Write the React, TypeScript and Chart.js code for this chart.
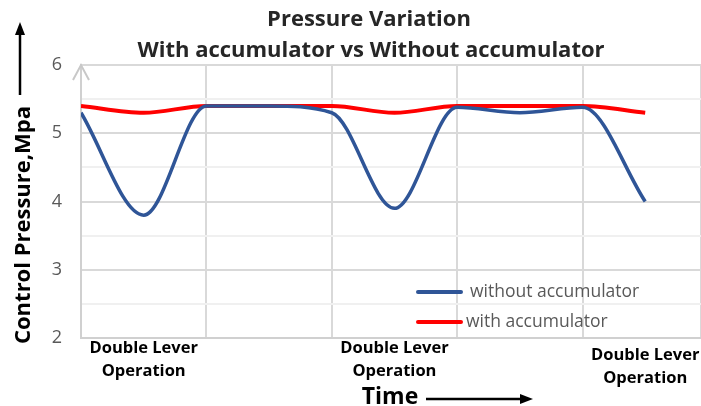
import React, { useEffect, useRef } from 'react';
import { Chart, registerables } from 'chart.js';

Chart.register(...registerables);

// ---- data ----
const timeSteps = [0, 1, 2, 3, 4, 5, 6, 7, 8, 9];
const withoutAccumulator = [5.3, 3.8, 5.4, 5.4, 5.3, 3.9, 5.38, 5.3, 5.38, 4.0];
const withAccumulator = [5.4, 5.3, 5.4, 5.4, 5.4, 5.3, 5.4, 5.4, 5.4, 5.3];
const seriesNames = ['without accumulator', 'with accumulator'];
const operationSteps = [1, 5, 9];
const operationLabel = ['Double Lever', 'Operation'];
const titleLines = ['Pressure Variation', 'With accumulator vs Without accumulator'];
const yAxisTitle = 'Control Pressure,Mpa';
const xAxisTitle = 'Time';
const yMin = 2;
const yMax = 6;

const BLUE = '#2F5597';
const RED = '#FF0000';
const FONT = '"Open Sans", "Noto Sans", "Liberation Sans", sans-serif';

const decorPlugin = {
  id: 'decor',
  afterDraw(chart: any) {
    const ctx = chart.ctx as CanvasRenderingContext2D;
    const area = chart.chartArea;
    const xs = chart.scales.x;
    ctx.save();

    // y-axis open arrowhead
    ctx.strokeStyle = '#c8c8c8';
    ctx.lineWidth = 2;
    ctx.beginPath();
    ctx.moveTo(area.left - 8, area.top + 15);
    ctx.lineTo(area.left, area.top);
    ctx.lineTo(area.left + 8, area.top + 15);
    ctx.stroke();

    // title
    ctx.fillStyle = '#262626';
    ctx.font = `bold 22px ${FONT}`;
    ctx.textAlign = 'center';
    ctx.textBaseline = 'middle';
    ctx.fillText(titleLines[0], 369, 20);
    ctx.fillText(titleLines[1], 371, 51);

    // y axis title, rotated
    ctx.save();
    ctx.translate(24, 225);
    ctx.rotate(-Math.PI / 2);
    ctx.fillStyle = '#000';
    ctx.font = `bold 22px ${FONT}`;
    ctx.fillText(yAxisTitle, 0, 0);
    ctx.restore();

    // up arrow
    ctx.strokeStyle = '#000';
    ctx.fillStyle = '#000';
    ctx.lineWidth = 2.5;
    ctx.beginPath();
    ctx.moveTo(20, 95);
    ctx.lineTo(20, 32);
    ctx.stroke();
    ctx.beginPath();
    ctx.moveTo(20, 22);
    ctx.lineTo(15, 35);
    ctx.lineTo(25, 35);
    ctx.closePath();
    ctx.fill();

    // operation labels under the axis
    ctx.font = `bold 16.5px ${FONT}`;
    ctx.fillStyle = '#000';
    operationSteps.forEach((s, i) => {
      const x = xs.getPixelForValue(s);
      const dy = i === operationSteps.length - 1 ? 7 : 0;
      ctx.fillText(operationLabel[0], x, 348 + dy);
      ctx.fillText(operationLabel[1], x, 371 + dy);
    });

    // x axis title with arrow
    ctx.font = `bold 23px ${FONT}`;
    ctx.fillText(xAxisTitle, 390, 397);
    ctx.lineWidth = 2.5;
    ctx.beginPath();
    ctx.moveTo(426, 399);
    ctx.lineTo(522, 399);
    ctx.stroke();
    ctx.beginPath();
    ctx.moveTo(533, 399);
    ctx.lineTo(520, 394);
    ctx.lineTo(520, 404);
    ctx.closePath();
    ctx.fill();

    // legend
    const legendColors = [BLUE, RED];
    const legendY = [292, 322];
    const textX = [470, 466];
    ctx.lineWidth = 4;
    ctx.lineCap = 'round';
    ctx.font = `17.5px ${FONT}`;
    ctx.textAlign = 'left';
    seriesNames.forEach((name, i) => {
      ctx.strokeStyle = legendColors[i];
      ctx.beginPath();
      ctx.moveTo(418, legendY[i]);
      ctx.lineTo(461, legendY[i]);
      ctx.stroke();
      ctx.fillStyle = '#595959';
      ctx.fillText(name, textX[i], legendY[i]);
    });

    ctx.restore();
  },
};

export default function App() {
  const canvasRef = useRef<HTMLCanvasElement | null>(null);

  useEffect(() => {
    const canvas = canvasRef.current;
    if (!canvas) return;
    const chart = new Chart(canvas, {
      type: 'line',
      data: {
        datasets: [
          {
            label: seriesNames[0],
            data: timeSteps.map((t, i) => ({ x: t, y: withoutAccumulator[i] })),
            borderColor: BLUE,
            borderWidth: 3.5,
            pointRadius: 0,
            cubicInterpolationMode: 'monotone',
            fill: false,
          },
          {
            label: seriesNames[1],
            data: timeSteps.map((t, i) => ({ x: t, y: withAccumulator[i] })),
            borderColor: RED,
            borderWidth: 4,
            pointRadius: 0,
            cubicInterpolationMode: 'monotone',
            fill: false,
          },
        ],
      },
      options: {
        animation: false,
        responsive: false,
        devicePixelRatio: 1,
        layout: { padding: { top: 65, left: 0, right: 0, bottom: 0 } },
        plugins: {
          legend: { display: false },
          title: { display: false },
          tooltip: { enabled: false },
        },
        scales: {
          x: {
            type: 'linear',
            min: 0,
            max: 9.89,
            afterFit: (s: any) => {
              s.height = 68;
            },
            ticks: { display: false, stepSize: 2 },
            grid: { color: '#d9d9d9', lineWidth: 2, drawTicks: false },
            border: { display: true, color: '#d0d0d0', width: 2 },
          },
          y: {
            min: yMin,
            max: yMax,
            afterFit: (s: any) => {
              s.width = 81;
            },
            ticks: {
              stepSize: 0.5,
              padding: 19,
              color: '#595959',
              font: { family: FONT, size: 18 },
              callback: (v: any) => (Number(v) % 1 === 0 ? String(v) : ''),
            },
            grid: {
              drawTicks: false,
              lineWidth: 2,
              color: (c: any) => (c.tick && c.tick.value % 1 === 0 ? '#d9d9d9' : '#f0f0f0'),
            },
            border: { display: true, color: '#d0d0d0', width: 2 },
          },
        },
      },
      plugins: [decorPlugin],
    });
    return () => chart.destroy();
  }, []);

  return (
    <div style={{ position: 'absolute', left: 0, top: 0, width: 701, height: 406, background: '#fff' }}>
      <canvas ref={canvasRef} width={701} height={406} style={{ display: 'block' }} />
    </div>
  );
}
